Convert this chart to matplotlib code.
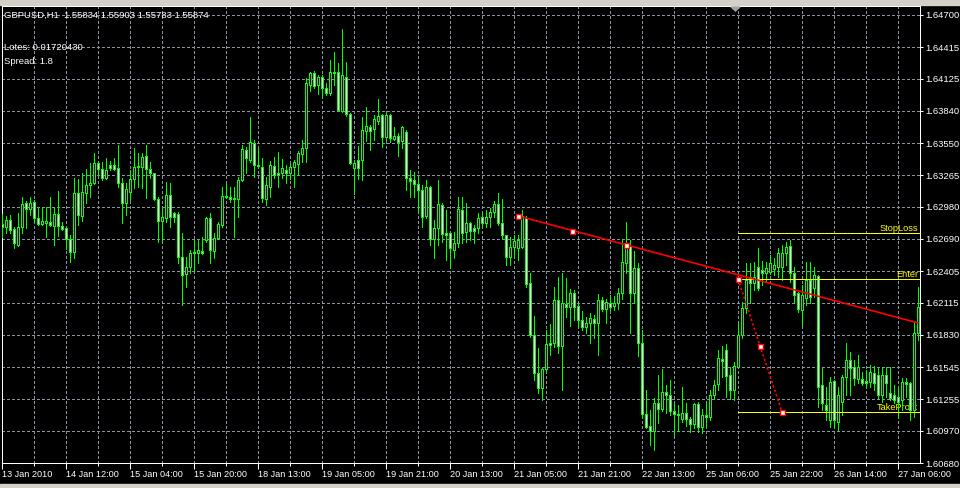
import matplotlib
matplotlib.use('Agg')
import matplotlib.pyplot as plt
import numpy as np
from matplotlib.patches import Polygon, Rectangle

plt.rcParams['font.family'] = ['Liberation Sans', 'DejaVu Sans']

# ---------------- data (GBPUSD H1) ----------------
opens = [1.62825, 1.62798, 1.62861, 1.62780, 1.62636, 1.62798, 1.63013, 1.62959, 1.63022, 1.62879,
         1.62825, 1.62834, 1.62843, 1.62807, 1.62915, 1.62807, 1.62789, 1.62690, 1.62574, 1.63103,
         1.62897, 1.63103, 1.63175, 1.63193, 1.63372, 1.63319, 1.63238, 1.63354, 1.63354, 1.63328,
         1.63193, 1.63013, 1.63112, 1.63229, 1.63336, 1.63336, 1.63435, 1.63319, 1.63283, 1.63049,
         1.62852, 1.62879, 1.63085, 1.62924, 1.62915, 1.62529, 1.62376, 1.62439, 1.62565, 1.62565,
         1.62583, 1.62681, 1.62879, 1.62583, 1.62699, 1.62816, 1.63067, 1.63067, 1.63058, 1.63049,
         1.63220, 1.63489, 1.63399, 1.63552, 1.63354, 1.63336, 1.63049, 1.63157, 1.63345, 1.63283,
         1.63283, 1.63310, 1.63283, 1.63336, 1.63363, 1.63453, 1.63507, 1.64072, 1.64180, 1.64072,
         1.64144, 1.64045, 1.64000, 1.64189, 1.64189, 1.63839, 1.64144, 1.63812, 1.63328, 1.63399,
         1.63399, 1.63659, 1.63695, 1.63677, 1.63749, 1.63803, 1.63606, 1.63803, 1.63588, 1.63615,
         1.63570, 1.63650, 1.63238, 1.63220, 1.63184, 1.63130, 1.62897, 1.63157, 1.62690, 1.62789,
         1.62995, 1.62744, 1.62744, 1.62592, 1.62654, 1.62951, 1.62753, 1.62834, 1.62789, 1.62789,
         1.62888, 1.62834, 1.62888, 1.62933, 1.63004, 1.62834, 1.62726, 1.62529, 1.62618, 1.62609,
         1.62618, 1.62879, 1.62296, 1.61829, 1.61488, 1.61354, 1.61524, 1.61757, 1.61757, 1.62143,
         1.61730, 1.62107, 1.62080, 1.62206, 1.62089, 1.61964, 1.61901, 1.61937, 1.61973, 1.61937,
         1.62143, 1.62062, 1.62116, 1.62089, 1.62116, 1.62206, 1.62475, 1.62627, 1.62206, 1.62430,
         1.61757, 1.61120, 1.61012, 1.60968, 1.61219, 1.61165, 1.61318, 1.61291, 1.61147, 1.61120,
         1.61075, 1.61129, 1.61075, 1.61030, 1.61210, 1.61003, 1.61111, 1.61093, 1.61291, 1.61389,
         1.61614, 1.61694, 1.61470, 1.61336, 1.61542, 1.61829, 1.62071, 1.62350, 1.62296, 1.62439,
         1.62412, 1.62385, 1.62394, 1.62421, 1.62439, 1.62439, 1.62565, 1.62627, 1.62385, 1.62206,
         1.62053, 1.62161, 1.62323, 1.62251, 1.62358, 1.61380, 1.61201, 1.61066, 1.61416, 1.61048,
         1.61228, 1.61452, 1.61605, 1.61542, 1.61434, 1.61434, 1.61416, 1.61407, 1.61488, 1.61470,
         1.61291, 1.61470, 1.61309, 1.61291, 1.61273, 1.61246, 1.61407, 1.61398, 1.61156, 1.61847]

highs = [1.62915, 1.62897, 1.62906, 1.62798, 1.62924, 1.63067, 1.63031, 1.63067, 1.63040, 1.62977,
         1.62968, 1.62977, 1.63067, 1.62977, 1.63121, 1.62843, 1.62798, 1.62726, 1.63238, 1.63229,
         1.63283, 1.63319, 1.63372, 1.63462, 1.63381, 1.63381, 1.63417, 1.63390, 1.63417, 1.63534,
         1.63238, 1.63193, 1.63310, 1.63507, 1.63462, 1.63462, 1.63534, 1.63381, 1.63283, 1.63067,
         1.62959, 1.63202, 1.63193, 1.62933, 1.62933, 1.62744, 1.62529, 1.62592, 1.62681, 1.62690,
         1.62708, 1.62888, 1.62924, 1.62744, 1.62843, 1.63157, 1.63193, 1.63157, 1.63157, 1.63247,
         1.63534, 1.63516, 1.63785, 1.63579, 1.63507, 1.63417, 1.63247, 1.63390, 1.63426, 1.63471,
         1.63408, 1.63354, 1.63372, 1.63399, 1.63480, 1.63579, 1.64135, 1.64189, 1.64198, 1.64162,
         1.64162, 1.64090, 1.64297, 1.64368, 1.64270, 1.64575, 1.64279, 1.63821, 1.63399, 1.63525,
         1.63785, 1.63875, 1.63713, 1.63803, 1.63947, 1.63812, 1.63821, 1.63812, 1.63695, 1.63641,
         1.63704, 1.63668, 1.63310, 1.63292, 1.63247, 1.63175, 1.63220, 1.63166, 1.62861, 1.63220,
         1.63013, 1.62951, 1.62753, 1.62753, 1.63067, 1.63067, 1.63013, 1.62843, 1.62816, 1.62924,
         1.62924, 1.62951, 1.62968, 1.63031, 1.63103, 1.63049, 1.62726, 1.62708, 1.62726, 1.62726,
         1.62951, 1.62897, 1.62385, 1.62000, 1.61712, 1.61533, 1.61874, 1.61928, 1.62260, 1.62350,
         1.62385, 1.62341, 1.62242, 1.62233, 1.62125, 1.62044, 1.61991, 1.62026, 1.62008, 1.62197,
         1.62170, 1.62152, 1.62188, 1.62179, 1.62251, 1.62690, 1.62843, 1.62681, 1.62583, 1.62475,
         1.61874, 1.61336, 1.61156, 1.61264, 1.61470, 1.61524, 1.61380, 1.61425, 1.61219, 1.61201,
         1.61363, 1.61219, 1.61093, 1.61219, 1.61228, 1.61165, 1.61219, 1.61336, 1.61425, 1.61694,
         1.61730, 1.61748, 1.61542, 1.61587, 1.61937, 1.62125, 1.62475, 1.62475, 1.62484, 1.62609,
         1.62493, 1.62484, 1.62547, 1.62520, 1.62609, 1.62636, 1.62663, 1.62681, 1.62439, 1.62215,
         1.62278, 1.62484, 1.62484, 1.62439, 1.62367, 1.61533, 1.61363, 1.61452, 1.61425, 1.61363,
         1.61470, 1.61757, 1.61676, 1.61605, 1.61649, 1.61497, 1.61515, 1.61560, 1.61551, 1.61533,
         1.61542, 1.61542, 1.61542, 1.61380, 1.61363, 1.61443, 1.61443, 1.61407, 1.61946, 1.62260]

lows = [1.62708, 1.62744, 1.62744, 1.62609, 1.62627, 1.62744, 1.62789, 1.62906, 1.62843, 1.62816,
        1.62816, 1.62708, 1.62807, 1.62636, 1.62717, 1.62771, 1.62600, 1.62484, 1.62520, 1.62816,
        1.62852, 1.63013, 1.63067, 1.63184, 1.63274, 1.63220, 1.63229, 1.63310, 1.63310, 1.63157,
        1.62834, 1.62906, 1.63040, 1.63148, 1.63157, 1.63148, 1.63058, 1.63238, 1.63040, 1.62663,
        1.62663, 1.62843, 1.62798, 1.62843, 1.62475, 1.62098, 1.62260, 1.62385, 1.62394, 1.62475,
        1.62556, 1.62663, 1.62475, 1.62520, 1.62690, 1.62798, 1.63058, 1.63022, 1.62708, 1.62888,
        1.63211, 1.63283, 1.63381, 1.63247, 1.63336, 1.63022, 1.62995, 1.63067, 1.63238, 1.63157,
        1.63238, 1.63193, 1.63229, 1.63157, 1.63265, 1.63381, 1.63381, 1.64018, 1.64045, 1.63991,
        1.63956, 1.63982, 1.63982, 1.64072, 1.63839, 1.63830, 1.63794, 1.63363, 1.63094, 1.63229,
        1.63220, 1.63570, 1.63489, 1.63579, 1.63722, 1.63516, 1.63579, 1.63561, 1.63579, 1.63435,
        1.63507, 1.63130, 1.63067, 1.63067, 1.62933, 1.62798, 1.62879, 1.62636, 1.62520, 1.62636,
        1.62663, 1.62502, 1.62430, 1.62520, 1.62618, 1.62654, 1.62663, 1.62681, 1.62654, 1.62744,
        1.62798, 1.62798, 1.62798, 1.62888, 1.62816, 1.62690, 1.62457, 1.62457, 1.62529, 1.62502,
        1.62609, 1.62260, 1.61811, 1.61425, 1.61309, 1.61246, 1.61497, 1.61649, 1.61721, 1.61667,
        1.61336, 1.61991, 1.61910, 1.61964, 1.61901, 1.61874, 1.61847, 1.61757, 1.61802, 1.61649,
        1.62044, 1.61937, 1.62044, 1.62053, 1.62062, 1.62152, 1.62385, 1.61847, 1.62116, 1.61640,
        1.61084, 1.60994, 1.60842, 1.60797, 1.61039, 1.61147, 1.61129, 1.61111, 1.60932, 1.60968,
        1.61048, 1.61012, 1.60959, 1.60994, 1.60959, 1.60950, 1.61003, 1.61066, 1.61264, 1.61336,
        1.61452, 1.61273, 1.61255, 1.61246, 1.61533, 1.61802, 1.62026, 1.62116, 1.62233, 1.62233,
        1.62278, 1.62305, 1.62376, 1.62367, 1.62350, 1.62323, 1.62457, 1.62305, 1.62116, 1.62035,
        1.61919, 1.62098, 1.62116, 1.62170, 1.61183, 1.61156, 1.61066, 1.61003, 1.60994, 1.60977,
        1.61111, 1.61291, 1.61291, 1.61380, 1.61398, 1.61380, 1.61354, 1.61363, 1.61336, 1.61264,
        1.61228, 1.61273, 1.61246, 1.61219, 1.61084, 1.61156, 1.61273, 1.61066, 1.61093, 1.61784]

closes = [1.62798, 1.62861, 1.62771, 1.62654, 1.62798, 1.63004, 1.62959, 1.63013, 1.62879, 1.62825,
          1.62852, 1.62852, 1.62816, 1.62915, 1.62807, 1.62780, 1.62690, 1.62574, 1.63103, 1.62906,
          1.63112, 1.63175, 1.63193, 1.63372, 1.63319, 1.63238, 1.63310, 1.63328, 1.63319, 1.63193,
          1.63013, 1.63139, 1.63229, 1.63336, 1.63345, 1.63426, 1.63319, 1.63283, 1.63049, 1.62852,
          1.62888, 1.63085, 1.62888, 1.62888, 1.62529, 1.62367, 1.62439, 1.62565, 1.62574, 1.62592,
          1.62565, 1.62879, 1.62592, 1.62699, 1.62825, 1.63076, 1.63076, 1.63049, 1.63049, 1.63220,
          1.63498, 1.63417, 1.63561, 1.63354, 1.63345, 1.63058, 1.63175, 1.63354, 1.63265, 1.63265,
          1.63328, 1.63283, 1.63336, 1.63381, 1.63462, 1.63507, 1.64090, 1.64180, 1.64063, 1.64144,
          1.64045, 1.64000, 1.64189, 1.64180, 1.63848, 1.64162, 1.63812, 1.63372, 1.63372, 1.63328,
          1.63668, 1.63704, 1.63659, 1.63767, 1.63794, 1.63606, 1.63803, 1.63597, 1.63615, 1.63561,
          1.63695, 1.63238, 1.63211, 1.63184, 1.63130, 1.62888, 1.63157, 1.62690, 1.62789, 1.63004,
          1.62735, 1.62726, 1.62609, 1.62654, 1.62959, 1.62744, 1.62834, 1.62762, 1.62762, 1.62879,
          1.62834, 1.62888, 1.62933, 1.63004, 1.62834, 1.62726, 1.62529, 1.62618, 1.62672, 1.62681,
          1.62897, 1.62287, 1.61829, 1.61488, 1.61354, 1.61524, 1.61748, 1.61739, 1.62143, 1.61730,
          1.62116, 1.62080, 1.62206, 1.62080, 1.61964, 1.61901, 1.61937, 1.61982, 1.61937, 1.62143,
          1.62062, 1.62125, 1.62080, 1.62116, 1.62206, 1.62484, 1.62636, 1.62206, 1.62430, 1.61757,
          1.61120, 1.61003, 1.60968, 1.61219, 1.61165, 1.61318, 1.61291, 1.61147, 1.61120, 1.61111,
          1.61129, 1.61075, 1.61030, 1.61210, 1.61003, 1.61111, 1.61093, 1.61291, 1.61380, 1.61623,
          1.61596, 1.61461, 1.61336, 1.61551, 1.61829, 1.62071, 1.62323, 1.62296, 1.62350, 1.62251,
          1.62385, 1.62430, 1.62475, 1.62457, 1.62565, 1.62565, 1.62618, 1.62385, 1.62188, 1.62062,
          1.62188, 1.62323, 1.62170, 1.62367, 1.61363, 1.61219, 1.61156, 1.61407, 1.61066, 1.61291,
          1.61452, 1.61605, 1.61533, 1.61443, 1.61542, 1.61398, 1.61398, 1.61497, 1.61398, 1.61291,
          1.61470, 1.61398, 1.61264, 1.61246, 1.61228, 1.61407, 1.61389, 1.61156, 1.61847, 1.62080]

x_tick_labels = ['13 Jan 2010', '14 Jan 12:00', '15 Jan 04:00', '15 Jan 20:00', '18 Jan 13:00',
                 '19 Jan 05:00', '19 Jan 21:00', '20 Jan 13:00', '21 Jan 05:00', '21 Jan 21:00',
                 '22 Jan 13:00', '25 Jan 06:00', '25 Jan 22:00', '26 Jan 14:00', '27 Jan 06:00']
y_tick_labels = ['1.64700', '1.64415', '1.64125', '1.63840', '1.63550', '1.63265', '1.62980',
                 '1.62690', '1.62405', '1.62115', '1.61830', '1.61545', '1.61255', '1.60970', '1.60680']

# trend line and trade plan objects
trend_x = [129, 229]
trend_y = [1.62897, 1.61937]
trend_mark_x = [129, 142.5, 156]
trend_mark_y = [1.62897, 1.62762, 1.62636]
path_x = [184, 189.5, 195]
path_y = [1.62332, 1.61730, 1.61138]
level_start = 184
level_names = ['StopLoss', 'Enter', 'TakeProfit']
level_values = [1.62744, 1.62332, 1.61138]

header = 'GBPUSD,H1  1.55834 1.55903 1.55783 1.55874'
info_lines = ['Lotes: 0.01720430', 'Spread: 1.8']

# ---------------- layout ----------------
W, H = 960, 488
fig = plt.figure(figsize=(W / 100, H / 100), dpi=100, facecolor='black')
AL, AR, AT, AB = 2, 920, 6, 463
ax = fig.add_axes([AL / W, 1 - AB / H, (AR - AL) / W, (AB - AT) / H])
ax.set_facecolor('black')

n = len(closes)
idx = np.arange(n)
px_bar = 4
xmax = (AR - AL) / px_bar
ax.set_xlim(0, xmax)

ytop = float(y_tick_labels[0])
ybot = float(y_tick_labels[-1])
ppp = (ytop - ybot) / ((len(y_tick_labels) - 1) * 32)   # price per pixel
ax.set_ylim(ybot, ytop + (15 - AT) * ppp)
yt = np.linspace(ytop, ybot, len(y_tick_labels))

GREEN = '#00ff00'
GRID = '#8a93a3'
px = 0.72

# grid
for v in np.arange(8, n, 8):
    ax.axvline(v, color=GRID, lw=px, dashes=(2.9, 2.2), zorder=1, antialiased=False)
for v in yt:
    ax.axhline(v, color=GRID, lw=px, dashes=(2.9, 2.2), zorder=1, antialiased=False)

# candles
o = np.array(opens); c = np.array(closes)
hi = np.array(highs); lo = np.array(lows)
bull = c >= o
ax.vlines(idx, lo, hi, colors=GREEN, linewidth=px, zorder=3, antialiased=False)
ax.bar(idx, np.abs(c - o), bottom=np.minimum(o, c), width=0.5,
       color=np.where(bull, 'black', 'white'), edgecolor=GREEN, linewidth=px,
       zorder=4, antialiased=False)

# level lines + labels
ax.hlines(level_values, level_start, xmax, colors='#ffff00', lw=px, zorder=5, antialiased=False)
for name, val in zip(level_names, level_values):
    ax.annotate(name, xy=(xmax, val), xytext=(-1.2, 1.3), textcoords='offset points',
                ha='right', va='baseline', color='#ffff00', fontsize=6.6, zorder=2)

# red objects
ax.plot(trend_x, trend_y, color='#ff0000', lw=1.2, zorder=6)
ax.plot(path_x, path_y, color='#ff0000', lw=1.2, ls=(0, (1.4, 1.4)), zorder=6)
ax.plot(trend_mark_x + path_x, trend_mark_y + path_y, 's', ms=3.6, mfc='white',
        mec='#ff0000', mew=1.0, zorder=7, ls='none')

# axes / ticks
ax.yaxis.tick_right()
ax.set_yticks(yt)
ax.set_yticklabels(y_tick_labels)
ax.set_xticks(np.arange(0, n, 16))
ax.set_xticklabels(x_tick_labels, ha='left')
ax.set_xticks(np.arange(8, n, 16), minor=True)
ax.tick_params(axis='y', which='major', colors='white', length=2.3, width=px, pad=1.5, labelsize=6.8)
ax.tick_params(axis='x', which='major', colors='white', length=4.3, width=px, pad=0.8, labelsize=6.6)
ax.tick_params(axis='x', which='minor', colors='white', length=2.2, width=px)
for s in ax.spines.values():
    s.set_color('white')
    s.set_linewidth(px)

# header texts
fig.text(4 / W, 1 - 15 / H, header, color='white', fontsize=6.8, va='center', ha='left')
for k, line in enumerate(info_lines):
    fig.text(4 / W, 1 - (48 + 13 * k) / H, line, color='white', fontsize=6.8, va='center', ha='left')

# window chrome
fig.add_artist(Rectangle((0, 1 - 5 / H), 1, 5 / H, transform=fig.transFigure,
                         color='#d4d0c8', zorder=0))
fig.add_artist(Rectangle((0, 0), 1, 4 / H, transform=fig.transFigure,
                         color='#d4d0c8', zorder=0))
fig.add_artist(Polygon([[731 / W, 1 - 7 / H], [740 / W, 1 - 7 / H], [735.5 / W, 1 - 11 / H]],
                       transform=fig.transFigure, color='#a0a0a0', zorder=10))

fig.savefig('out.png', dpi=100, facecolor='black')
